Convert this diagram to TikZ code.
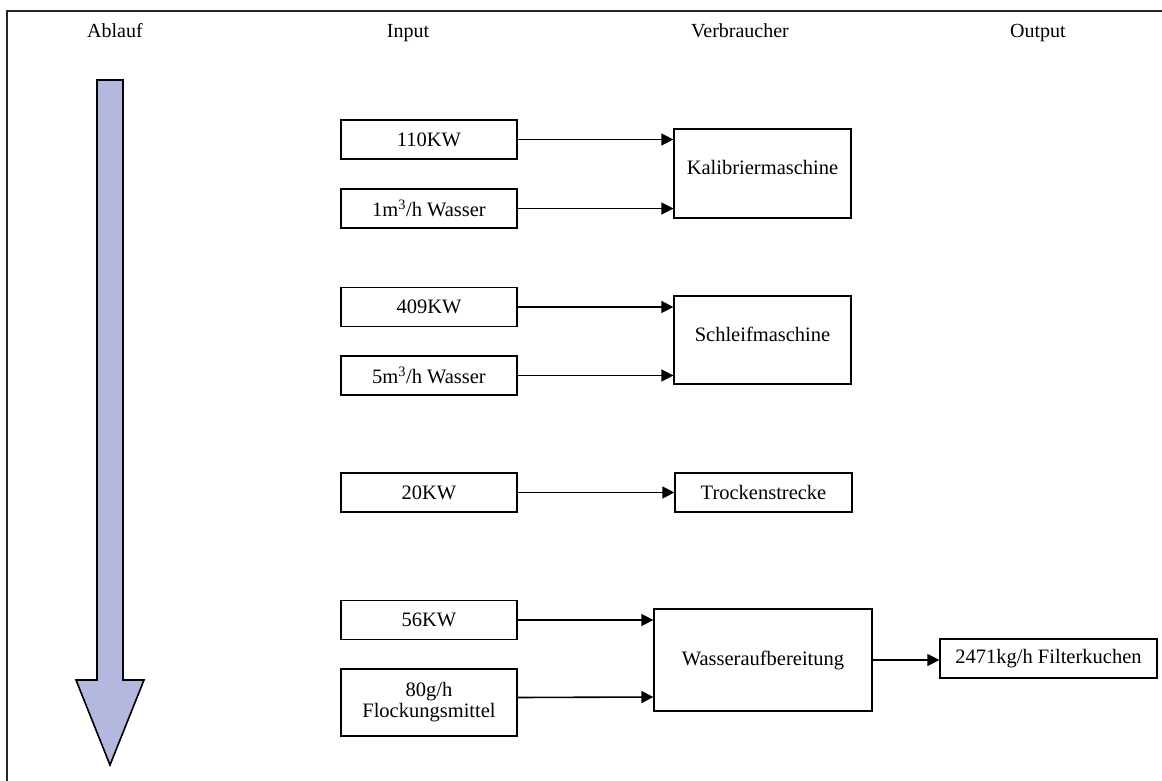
\documentclass[tikz,border=0pt]{standalone}
\usepackage{fontspec}
\setmainfont{Liberation Serif}
\usetikzlibrary{arrows.meta}
\definecolor{flowfill}{RGB}{180,184,222}
\tikzset{
  box/.style={draw=black, line width=1.3pt, rectangle, inner sep=0pt, align=center, font=\fontsize{20.5}{23}\selectfont},
  inbox/.style={box, minimum width=176pt, minimum height=39pt},
  hdr/.style={inner sep=0pt, anchor=base, font=\fontsize{20}{23}\selectfont},
  flow/.style={line width=1.6pt, -{Triangle[length=12pt,width=12pt]}},
  frame/.style={line width=1.3pt, draw=black!85},
  upper/.style={text height=14pt, text depth=12pt}
}
\begin{document}
\begin{tikzpicture}[x=1pt,y=-1pt]
\useasboundingbox (0,0) rectangle (1162,781);
% frame
\coordinate (f0) at (7,11);
\coordinate (f1) at (1162,11);
\coordinate (f2) at (7,781);
\draw[frame] (f1) -- (f0) -- (f2);
% headers
\node[hdr] (hA) at (115,38) {Ablauf};
\node[hdr] (hI) at (408,38) {Input};
\node[hdr] (hV) at (740,38) {Verbraucher};
\node[hdr] (hO) at (1038,38) {Output};
% big process arrow
\draw[line width=1.6pt, fill=flowfill, line join=miter]
  (97,80) -- (123,80) -- (123,680) -- (144,680) -- (110,765) -- (76,680) -- (97,680) -- cycle;
% inputs
\node[inbox] (in1) at (429,139.5) {110KW};
\node[inbox] (in2) at (429,208.5) {1m\textsuperscript{3}/h Wasser};
\node[inbox] (in3) at (429,307) {409KW};
\node[inbox] (in4) at (429,375.5) {5m\textsuperscript{3}/h Wasser};
\node[inbox] (in5) at (429,492.5) {20KW};
\node[inbox] (in6) at (429,620) {56KW};
\node[inbox, minimum height=67pt] (in7) at (429,702.5) {80g/h\\[-2pt]Flockungsmittel};
% consumers
\node[box, upper, minimum width=177pt, minimum height=89pt] (kal) at (762.5,173.5) {Kalibriermaschine};
\node[box, upper, minimum width=177pt, minimum height=88pt] (sch) at (762.5,340) {Schleifmaschine};
\node[box, minimum width=177pt, minimum height=39pt] (tro) at (763.5,492.5) {Trockenstrecke};
\node[box, minimum width=218pt, minimum height=102pt] (was) at (763,660) {Wasseraufbereitung};
% output
\node[box, minimum width=217pt, minimum height=39pt] (fil) at (1048.5,658.5) {2471kg/h Filterkuchen};
% connectors
\draw[flow] (in1.east) -- (in1.east -| kal.west);
\draw[flow] (in2.east) -- (in2.east -| kal.west);
\draw[flow] (in3.east) -- (in3.east -| sch.west);
\draw[flow] (in4.east) -- (in4.east -| sch.west);
\draw[flow] (in5.east) -- (tro.west);
\draw[flow] (in6.east) -- (in6.east -| was.west);
\draw[flow] (in7.east) ++(0,-5) -- (was.west |- 0,697);
\draw[flow] (was.east) -- (was.east -| fil.west);
\end{tikzpicture}
\end{document}
